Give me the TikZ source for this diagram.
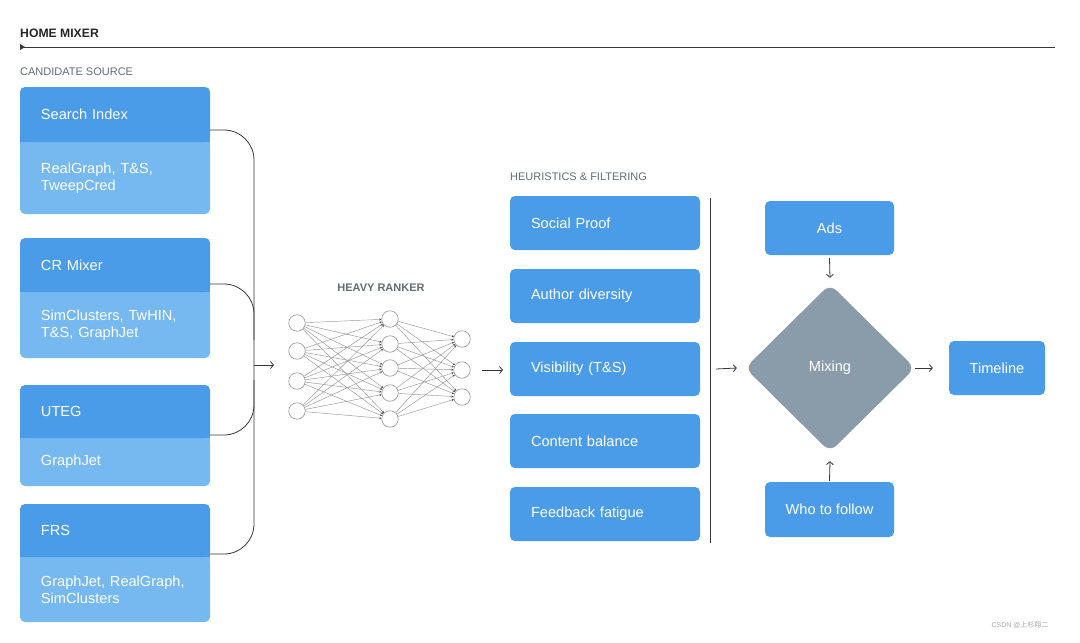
\documentclass[tikz,border=0pt]{standalone}
\usepackage{fontspec}
\setmainfont{Liberation Sans}
\newfontfamily\cjk{Noto Sans CJK SC}
\usetikzlibrary{arrows.meta,shapes.geometric,calc}
\definecolor{hdr}{RGB}{74,155,232}
\definecolor{bdy}{RGB}{118,184,240}
\definecolor{mixc}{RGB}{138,155,170}
\definecolor{lbl}{RGB}{100,108,118}
\definecolor{ln}{RGB}{55,55,55}
\definecolor{nn}{RGB}{150,150,150}
\begin{document}
\begin{tikzpicture}[x=1pt,y=-1pt,
  boxtext/.style={text=white,font=\fontsize{14.6}{17}\selectfont},
  hbox/.style={boxtext,fill=hdr,rounded corners=5pt,minimum width=190pt,text width=148pt,inner xsep=21pt,inner ysep=0pt,align=left},
  bbox/.style={boxtext,fill=bdy,rounded corners=5pt,minimum width=190pt,text width=148pt,inner xsep=21pt,inner ysep=0pt,align=left},
  cbox/.style={boxtext,fill=hdr,rounded corners=5pt,inner sep=0pt,align=center},
  seclbl/.style={text=lbl,font=\fontsize{11}{13}\selectfont,anchor=west,inner sep=0pt},
  conn/.style={draw=ln,line width=0.8pt},
  arr/.style={conn,-{Straight Barb[length=3pt,width=7pt]}},
  neuron/.style={circle,draw=nn,fill=white,line width=0.6pt,minimum size=16.5pt,inner sep=0pt},
  nnedge/.style={draw=nn,line width=0.45pt,-{Stealth[length=2.2pt,width=2.2pt,black!70]}}
]
\useasboundingbox[fill=white] (0,0) rectangle (1080,643);

% title
\node[anchor=west,inner sep=0pt,font=\fontsize{12.2}{14}\bfseries\selectfont,text=black!85] (title) at (20,33) {HOME MIXER};
\coordinate (tl) at (20,47);
\coordinate (tr) at (1055,47);
\draw[ln,line width=0.8pt] (tl) -- (tr);
\fill[ln] (20,44) -- (25,47) -- (20,50) -- cycle;

% candidate source
\node[seclbl] (cs) at (20,72) {CANDIDATE SOURCE};

% box 1
\node[bbox,minimum height=72pt] (b1) at (115,178) {RealGraph, T\&S,\\TweepCred};
\fill[bdy] (b1.north west) rectangle ([yshift=-6pt]b1.north east);
\node[hbox,minimum height=55pt] (s1) at (115,114.5) {Search Index};
\fill[hdr] (s1.south west) rectangle ([yshift=6pt]s1.south east);
% box 2
\node[bbox,minimum height=66pt] (b2) at (115,325) {SimClusters, TwHIN,\\T\&S, GraphJet};
\fill[bdy] (b2.north west) rectangle ([yshift=-6pt]b2.north east);
\node[hbox,minimum height=54pt] (s2) at (115,265) {CR Mixer};
\fill[hdr] (s2.south west) rectangle ([yshift=6pt]s2.south east);
% box 3
\node[bbox,minimum height=48pt] (b3) at (115,462) {GraphJet};
\fill[bdy] (b3.north west) rectangle ([yshift=-6pt]b3.north east);
\node[hbox,minimum height=53pt] (s3) at (115,411.5) {UTEG};
\fill[hdr] (s3.south west) rectangle ([yshift=6pt]s3.south east);
% box 4
\node[bbox,minimum height=65pt] (b4) at (115,589.5) {GraphJet, RealGraph,\\SimClusters};
\fill[bdy] (b4.north west) rectangle ([yshift=-6pt]b4.north east);
\node[hbox,minimum height=53pt] (s4) at (115,530.5) {FRS};
\fill[hdr] (s4.south west) rectangle ([yshift=6pt]s4.south east);

% bus
\coordinate (bus) at (254,400);
\coordinate (busout) at (254,365);
\draw[conn,rounded corners=30pt] ([yshift=-15.5pt]s1.east) -| (bus) |- ([yshift=-23.5pt]s4.east);
\draw[conn,rounded corners=30pt] ([yshift=-19pt]s2.east) -| (254,340);
\draw[conn,rounded corners=30pt] (254,380) |- ([yshift=-23.5pt]s3.east);

% heavy ranker
\node[text=lbl,font=\fontsize{11}{13}\bfseries\selectfont,inner sep=0pt] (hr) at (381,288) {HEAVY RANKER};
\foreach \i/\y in {1/323,2/351,3/381,4/411} \node[neuron] (a\i) at (297,\y) {};
\foreach \j/\y in {1/319,2/344,3/368,4/393,5/419} \node[neuron] (b\j) at (390,\y) {};
\foreach \k/\y in {1/339,2/370,3/397} \node[neuron] (c\k) at (462,\y) {};
\foreach \i in {1,...,4}{\foreach \j in {1,...,5}{\draw[nnedge] (a\i) -- (b\j);}}
\foreach \j in {1,...,5}{\foreach \k in {1,...,3}{\draw[nnedge] (b\j) -- (c\k);}}
\coordinate (nnin) at (274,365);
\draw[arr] (busout) -- (nnin);
\coordinate (nnout1) at (482,370);
\coordinate (nnout2) at (503,370);
\draw[arr] (nnout1) -- (nnout2);

% heuristics
\node[seclbl] (hf) at (510,177) {HEURISTICS \& FILTERING};
\node[hbox,minimum height=54pt] (h1) at (605,223) {Social Proof};
\node[hbox,minimum height=54pt] (h2) at (605,296) {Author diversity};
\node[hbox,minimum height=54pt] (h3) at (605,369) {Visibility (T\&S)};
\node[hbox,minimum height=54pt] (h4) at (605,441) {Content balance};
\node[hbox,minimum height=54pt] (h5) at (605,514) {Feedback fatigue};
\coordinate (vt) at (710,198);
\coordinate (vb) at (710,543);
\draw[conn] (vt) -- (vb);

% mixing
\node[diamond,fill=mixc,rounded corners=9pt,minimum width=170pt,minimum height=168pt,inner sep=0pt,text=white,font=\fontsize{14.6}{17}\selectfont] (mix) at (830,368) {Mixing};
\coordinate (min) at (716,369);
\draw[arr] (min) -- ([xshift=-8pt]mix.west);
\node[cbox,minimum width=129pt,minimum height=54pt] (ads) at (829.5,228) {Ads};
\node[cbox,minimum width=129pt,minimum height=55pt] (wtf) at (829.5,509.5) {Who to follow};
\node[cbox,minimum width=96pt,minimum height=54pt] (tl2) at (997,368) {Timeline};
\draw[arr] ([yshift=-3pt]ads.south) -- ([yshift=6pt]mix.north);
\draw[arr] ([yshift=1pt]wtf.north) -- ([yshift=-9pt]mix.south);
\draw[arr] (mix.east) -- ([xshift=-16pt]tl2.west);

% watermark
\node[text=black!35,font=\fontsize{7}{8}\selectfont,inner sep=0pt] (wm) at (1020,625) {CSDN @{\cjk 上杉翔二}};
\end{tikzpicture}
\end{document}
